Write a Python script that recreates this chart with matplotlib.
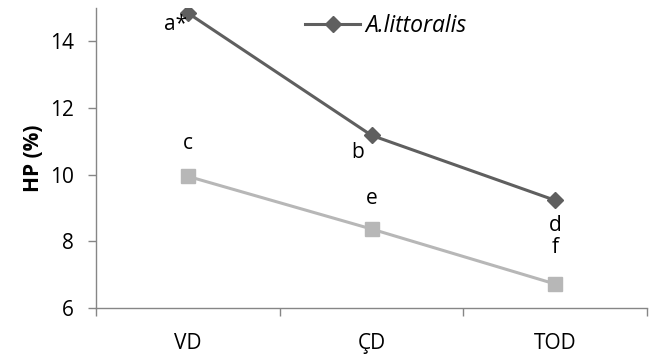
import matplotlib
matplotlib.use("Agg")
import matplotlib.pyplot as plt

plt.rcParams['font.family'] = ['Open Sans', 'DejaVu Sans']

FONT_SIZE = 15
DARK = "#5f5f5f"
LIGHT = "#b7b7b7"
AXIS = "#868686"

categories = ["VD", "ÇD", "TOD"]
littoralis = [14.85, 11.18, 9.23]
other = [9.95, 8.37, 6.72]
littoralis_letters = ["a*", "b", "d"]
other_letters = ["c", "e", "f"]
yticks = [6, 8, 10, 12, 14]

# label offsets in points (dx, dy) from each marker
littoralis_offsets = [(-9, -8), (-10, -12), (0, -18)]
other_offsets = [(0, 24), (0, 22), (0, 26)]


fig = plt.figure(figsize=(6.54, 3.56), dpi=100)
ax = fig.add_axes([96 / 654, 48 / 356, 551 / 654, 300 / 356])

xs = list(range(len(categories)))
ax.plot(xs, littoralis, color=DARK, lw=2.2, marker='D', markersize=8.5,
        label="A.littoralis")
ax.plot(xs, other, color=LIGHT, lw=2.2, marker='s', markersize=9.5,
        label="_nolegend_")

for x, y, t, off in zip(xs, littoralis, littoralis_letters, littoralis_offsets):
    ax.annotate(t, (x, y), xytext=off, textcoords='offset points',
                ha='center', va='center', fontsize=FONT_SIZE)
for x, y, t, off in zip(xs, other, other_letters, other_offsets):
    ax.annotate(t, (x, y), xytext=off, textcoords='offset points',
                ha='center', va='center', fontsize=FONT_SIZE)

ax.set_xlim(-0.5, len(categories) - 0.5)
ax.set_ylim(6, 15)
ax.set_yticks(yticks)
ax.set_xticks(xs)
ax.set_xticklabels(categories)
ax.set_xticks([i - 0.5 for i in range(len(categories) + 1)], minor=True)

for side in ("top", "right"):
    ax.spines[side].set_visible(False)
for side in ("left", "bottom"):
    ax.spines[side].set_color(AXIS)
    ax.spines[side].set_linewidth(1)

ax.tick_params(axis='y', which='major', length=6, width=1, color=AXIS,
               labelsize=FONT_SIZE, pad=10)
ax.tick_params(axis='x', which='major', length=0, labelsize=FONT_SIZE, pad=18)
ax.tick_params(axis='x', which='minor', length=6, width=1, color=AXIS)

ax.set_ylabel("HP (%)", fontsize=FONT_SIZE, fontweight='bold', labelpad=4)

leg = ax.legend(loc='center left', bbox_to_anchor=(305 / 654, 1 - 26 / 356),
                bbox_transform=fig.transFigure, frameon=False, borderpad=0,
                borderaxespad=0, handlelength=2.4, handletextpad=0.25,
                prop={'size': 16.5, 'style': 'italic'})

fig.savefig("out.png", dpi=100)
